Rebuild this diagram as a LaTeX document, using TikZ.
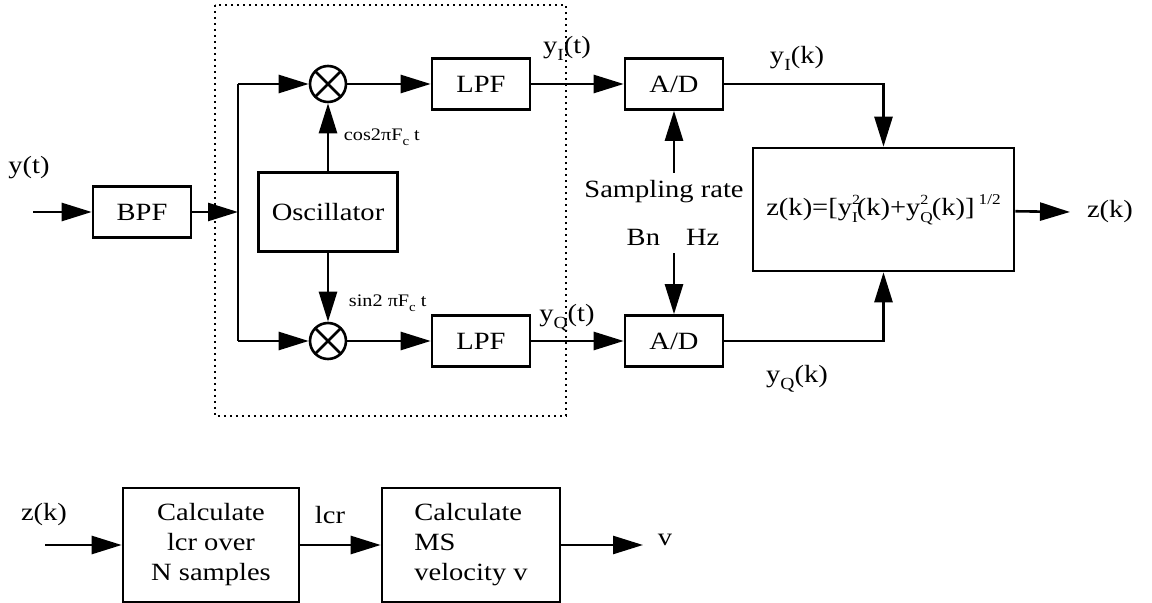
\documentclass[tikz,border=0pt]{standalone}
\usepackage{fontspec}
\setmainfont{Liberation Serif}[FakeStretch=1.15]
\usetikzlibrary{arrows.meta}

\newcommand{\lo}[2][8.5]{\raisebox{-0.6ex}{\fontsize{#1}{#1}\selectfont #2}}
\newcommand{\hi}[2][8.5]{\raisebox{1.0ex}{\fontsize{#1}{#1}\selectfont #2}}
\newcommand{\losup}[2]{\rlap{\hi[7]{#1}}\lo[7.5]{#2}\kern-0.5pt}

\begin{document}
\begin{tikzpicture}[x=0.5pt, y=-0.5pt, line width=1.3pt,
    font=\fontsize{12.4}{15}\selectfont,
    blk/.style={draw, rectangle, inner sep=0pt, minimum width=49pt, minimum height=25.5pt},
    mixer/.style={draw, circle, inner sep=0pt, minimum size=18pt,
      path picture={\draw (path picture bounding box.north west) -- (path picture bounding box.south east)
        (path picture bounding box.north east) -- (path picture bounding box.south west);}},
    arr/.style={-{Triangle[length=15pt,width=9pt]}},
    small/.style={font=\fontsize{8.8}{10}\selectfont},
    frame/.style={line width=0.8pt, dash pattern=on 0.8pt off 2.2pt}]
        \useasboundingbox (0,0) rectangle (1152,603);

        % quadrature receiver
        \draw[frame] (215,5) rectangle (566,416);

        \node (ylbl) at (29,168) {y(t)};
        \coordinate (yin) at (33,212);
        \node[blk] (bpf) at (142,212) {BPF};
        \coordinate (br) at (238,212);

        \node[mixer] (mixu) at (328,84) {};
        \node[mixer] (mixd) at (328,341) {};
        \node[blk, minimum width=69.5pt, minimum height=39.5pt] (osc) at (328,212) {Oscillator};
        \node[blk] (lpfu) at (481,84) {LPF};
        \node[blk] (lpfd) at (481,341) {LPF};
        \node[blk] (adu) at (674,84) {A/D};
        \node[blk] (add) at (674,341) {A/D};
        \node[blk, minimum width=130.5pt, minimum height=61.5pt] (zbox) at (883.5,209.5)
            {z(k)=[y\losup{2}{I}(k)+y\losup{2}{Q}(k)]\kern2pt\hi[7.5]{1/2}};

        \node[small, anchor=west] (cosl) at (336,137) {cos2πF\lo[6.5]{c} t};
        \node[small, anchor=west] (sinl) at (341,303) {sin2 πF\lo[6.5]{c} t};
        \node (yit) at (567,48) {y\lo{I}(t)};
        \node (yqt) at (567,318) {y\lo{Q}(t)};
        \node (samp) at (664,192) {Sampling rate};
        \node (bnhz) at (673,237) {Bn\hspace{13pt}Hz};
        \node (yik) at (797,58) {y\lo{I}(k)};
        \node (yqk) at (797,379) {y\lo{Q}(k)};
        \coordinate (zout) at (1070,212);
        \node (zlbl) at (1110,212) {z(k)};

        \draw[arr] (yin) -- (bpf);
        \draw[arr] (bpf) -- (br);
        \draw (br |- mixu) -- (br |- mixd);
        \draw[arr] (br |- mixu) -- (mixu);
        \draw[arr] (br |- mixd) -- (mixd);
        \draw[arr] (osc) -- (mixu);
        \draw[arr] (osc) -- (mixd);
        \draw[arr] (mixu) -- (lpfu);
        \draw[arr] (mixd) -- (lpfd);
        \draw[arr] (lpfu) -- (adu);
        \draw[arr] (lpfd) -- (add);
        \draw[arr] (samp.north -| adu) -- (adu);
        \draw[arr] (bnhz.south -| add) -- (add);
        \draw[arr] (adu) -| (zbox);
        \draw[arr] (add) -| (zbox);
        \draw[arr] (zbox) -- (zout);

        % level crossing rate
        \node (zk2) at (44,515) {z(k)};
        \coordinate (zin) at (45,545);
        \node[blk, minimum width=88pt, minimum height=57pt, align=center] (calc1) at (211,545)
            {Calculate\\lcr over\\N samples};
        \node (lcr) at (330,515) {lcr};
        \node[blk, minimum width=89pt, minimum height=57pt, align=left] (calc2) at (471,545)
            {Calculate\\MS\\velocity v};
        \coordinate (vout) at (643,545);
        \node (vlbl) at (665,540) {v};

        \draw[arr] (zin) -- (calc1);
        \draw[arr] (calc1) -- (calc2);
        \draw[arr] (calc2) -- (vout);
    \end{tikzpicture}
\end{document}
